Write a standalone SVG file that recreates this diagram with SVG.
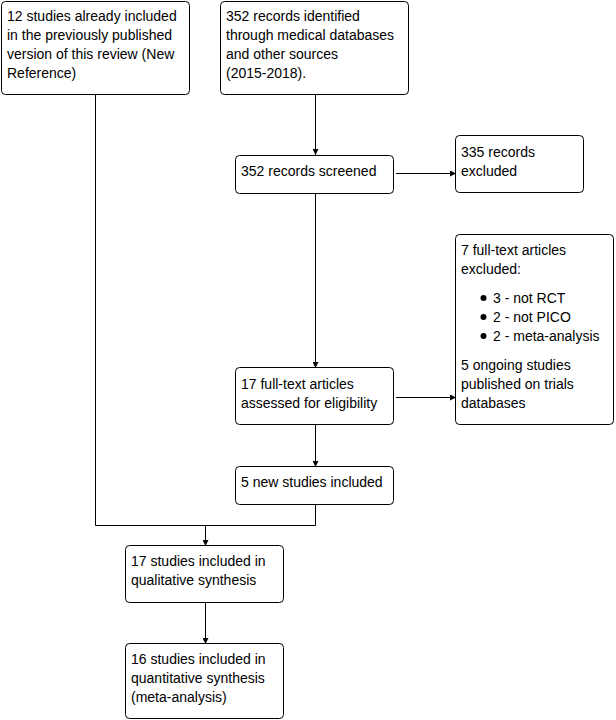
<svg xmlns="http://www.w3.org/2000/svg" width="616" height="720" viewBox="0 0 616 720">
<style>
.box{fill:#fff;stroke:#000;stroke-width:1}
.t{font-family:"Liberation Sans",Arial,sans-serif;font-size:14px;fill:#000}
.c{fill:none;stroke:#000;stroke-width:1}
</style>
<defs>
<marker id="ah" markerUnits="userSpaceOnUse" markerWidth="6" markerHeight="6" refX="6" refY="3" orient="auto">
<path d="M0,0 L6,3 L0,6 z" fill="#000"/>
</marker>
</defs>
<rect width="616" height="720" fill="#fff"/>
<g id="connectors">
<path class="c" d="M315.5,95 V155" marker-end="url(#ah)"/>
<path class="c" d="M396,173.5 H456" marker-end="url(#ah)"/>
<path class="c" d="M315.5,194 V368" marker-end="url(#ah)"/>
<path class="c" d="M396,397.5 H456" marker-end="url(#ah)"/>
<path class="c" d="M315.5,425 V467" marker-end="url(#ah)"/>
<path class="c" d="M95.5,95 V525.5 H315.5 V505"/>
<path class="c" d="M205.5,525.5 V546" marker-end="url(#ah)"/>
<path class="c" d="M205.5,603 V644" marker-end="url(#ah)"/>
</g>
<g id="n1">
<rect class="box" x="1.5" y="1.5" width="188" height="93" rx="4"/>
<text class="t"><tspan x="7" y="21">12 studies already included</tspan><tspan x="7" y="40">in the previously published</tspan><tspan x="7" y="59">version of this review (New</tspan><tspan x="7" y="78">Reference)</tspan></text>
</g>
<g id="n2">
<rect class="box" x="220.5" y="1.5" width="188" height="93" rx="4"/>
<text class="t"><tspan x="226" y="21">352 records identified</tspan><tspan x="226" y="40">through medical databases</tspan><tspan x="226" y="59">and other sources</tspan><tspan x="226" y="78">(2015-2018).</tspan></text>
</g>
<g id="n3">
<rect class="box" x="235.5" y="155.5" width="158" height="38" rx="4"/>
<text class="t" x="241" y="176">352 records screened</text>
</g>
<g id="n4">
<rect class="box" x="455.5" y="135.5" width="128" height="57" rx="4"/>
<text class="t"><tspan x="461" y="157">335 records</tspan><tspan x="461" y="176">excluded</tspan></text>
</g>
<g id="n5">
<rect class="box" x="455.5" y="234.5" width="158" height="190" rx="4"/>
<text class="t"><tspan x="461" y="255">7 full-text articles</tspan><tspan x="461" y="274">excluded:</tspan></text>
<circle cx="483.5" cy="298" r="3"/>
<circle cx="483.5" cy="317" r="3"/>
<circle cx="483.5" cy="336" r="3"/>
<text class="t"><tspan x="493" y="303">3 - not RCT</tspan><tspan x="493" y="322">2 - not PICO</tspan><tspan x="493" y="341">2 - meta-analysis</tspan></text>
<text class="t"><tspan x="461" y="370">5 ongoing studies</tspan><tspan x="461" y="389">published on trials</tspan><tspan x="461" y="408">databases</tspan></text>
</g>
<g id="n6">
<rect class="box" x="235.5" y="367.5" width="158" height="57" rx="4"/>
<text class="t"><tspan x="241" y="389">17 full-text articles</tspan><tspan x="241" y="408">assessed for eligibility</tspan></text>
</g>
<g id="n7">
<rect class="box" x="235.5" y="466.5" width="158" height="38" rx="4"/>
<text class="t" x="241" y="487">5 new studies included</text>
</g>
<g id="n8">
<rect class="box" x="125.5" y="545.5" width="158" height="57" rx="4"/>
<text class="t"><tspan x="131" y="566">17 studies included in</tspan><tspan x="131" y="585">qualitative synthesis</tspan></text>
</g>
<g id="n9">
<rect class="box" x="125.5" y="643.5" width="158" height="75" rx="4"/>
<text class="t"><tspan x="131" y="664">16 studies included in</tspan><tspan x="131" y="683">quantitative synthesis</tspan><tspan x="131" y="702">(meta-analysis)</tspan></text>
</g>
</svg>
